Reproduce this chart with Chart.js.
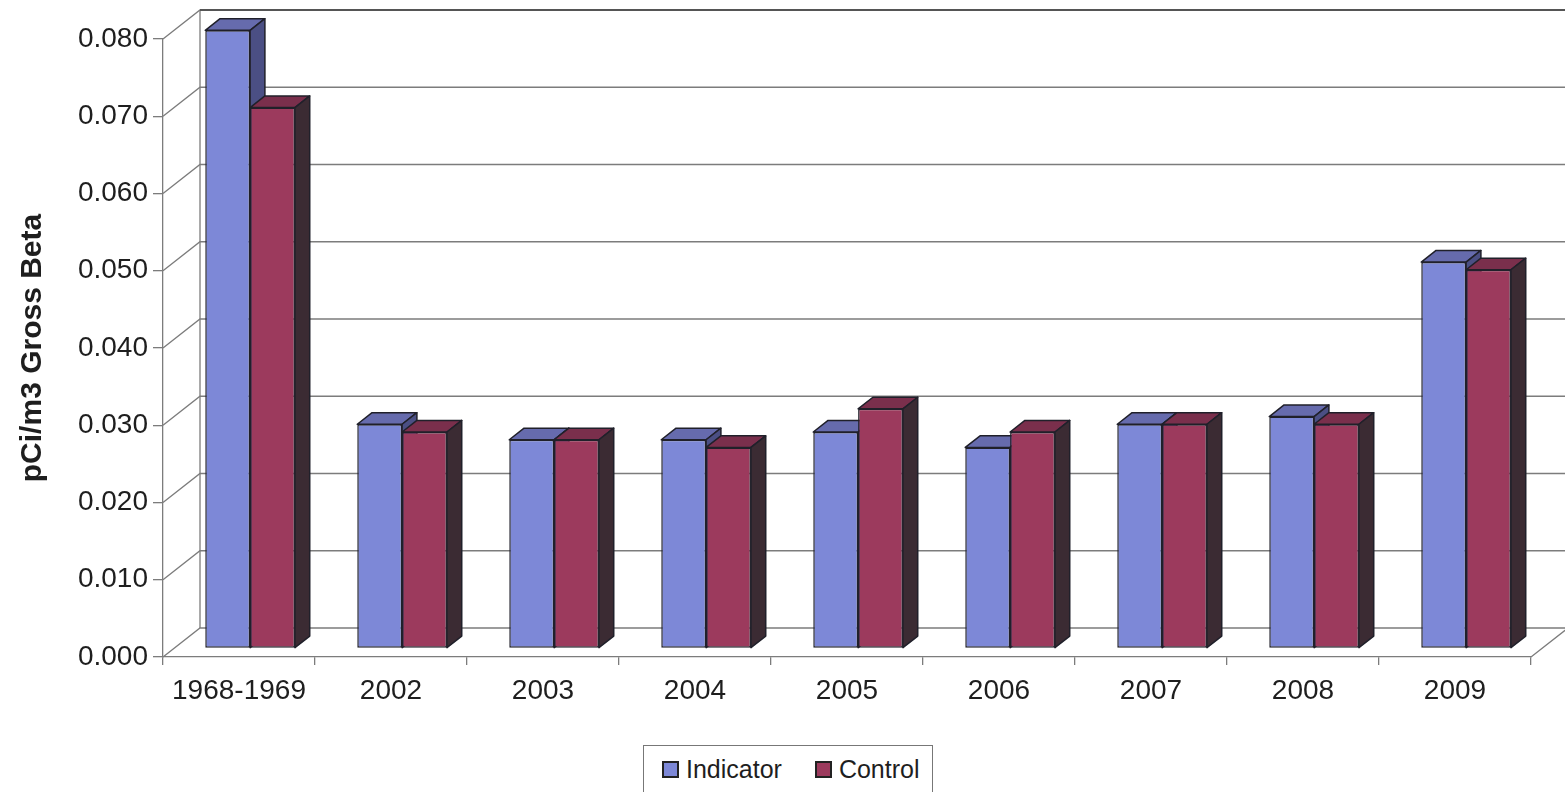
<!DOCTYPE html>
<html>
<head>
<meta charset="utf-8">
<script src="https://cdn.jsdelivr.net/npm/chart.js@4.4.1/dist/chart.umd.min.js"></script>
<style>
  html, body { margin: 0; padding: 0; background: #fff; overflow: hidden; }
  #wrap { position: relative; width: 1565px; height: 792px; }
  #legend {
    position: absolute; left: 643px; top: 745px; width: 290px; height: 60px;
    box-sizing: border-box; border: 1px solid #777; background: #fff;
    display: flex; align-items: flex-start; padding: 11px 0 0 18px;
    font: 25px "Liberation Sans", Arial, sans-serif; color: #1e1e1e; line-height: 25px;
  }
  #legend .item { display: flex; align-items: center; margin-right: 33px; }
  #legend .box { width: 13px; height: 13px; border: 2px solid #222; margin-right: 7px; }
</style>
</head>
<body>
<div id="wrap">
  <canvas id="chart"></canvas>
  <div id="legend"></div>
</div>
<script>
// Data
const categories = ['1968-1969', '2002', '2003', '2004', '2005', '2006', '2007', '2008', '2009'];
const seriesNames = ['Indicator', 'Control'];
const indicatorValues = [0.080, 0.029, 0.027, 0.027, 0.028, 0.026, 0.029, 0.030, 0.050];
const controlValues = [0.070, 0.028, 0.027, 0.026, 0.031, 0.028, 0.029, 0.029, 0.049];
const yMax = 0.080;
const yStep = 0.010;

// Colours per series: front face, top face, side face
const frontColors = ['#7d88d7', '#9c3a5d'];
const topColors = ['#666bad', '#7a2f4c'];
const sideColors = ['#4b4f84', '#3b2b33'];
const edgeColor = '#20202a';
const lineColor = '#7c7c7c';

// Fake 3D depth (Excel-style), in pixels
const DEPTH_X = 37;
const DEPTH_Y = -29;
const BAR_FRONT = 0.3;
const BAR_BACK = 0.7;
const FONT = '"Liberation Sans", Arial, sans-serif';

function poly(ctx, pts, fill) {
  ctx.beginPath();
  ctx.moveTo(pts[0][0], pts[0][1]);
  for (let i = 1; i < pts.length; i++) ctx.lineTo(pts[i][0], pts[i][1]);
  ctx.closePath();
  ctx.fillStyle = fill;
  ctx.fill();
  ctx.stroke();
}

// Walls, back gridlines and bar tops/sides, then shift the front faces
const threeD = {
  id: 'threeD',
  beforeDatasetsDraw(chart) {
    const { ctx, chartArea: a, scales: { y } } = chart;
    ctx.save();
    ctx.strokeStyle = lineColor;
    ctx.lineWidth = 1.3;
    y.ticks.forEach(t => {
      const py = y.getPixelForValue(t.value);
      ctx.beginPath();
      ctx.moveTo(a.left, py);
      ctx.lineTo(a.left + DEPTH_X, py + DEPTH_Y);
      ctx.lineTo(a.right + DEPTH_X, py + DEPTH_Y);
      ctx.stroke();
    });
    // back wall left edge and floor right edge
    ctx.beginPath();
    ctx.moveTo(a.left + DEPTH_X, y.getPixelForValue(yMax) + DEPTH_Y);
    ctx.lineTo(a.left + DEPTH_X, y.getPixelForValue(0) + DEPTH_Y);
    ctx.moveTo(a.right, a.bottom);
    ctx.lineTo(a.right + DEPTH_X, a.bottom + DEPTH_Y);
    ctx.stroke();
    // top edge of the back wall a bit darker
    ctx.strokeStyle = '#555';
    ctx.lineWidth = 2;
    ctx.beginPath();
    ctx.moveTo(a.left + DEPTH_X, y.getPixelForValue(yMax) + DEPTH_Y);
    ctx.lineTo(a.right + DEPTH_X, y.getPixelForValue(yMax) + DEPTH_Y);
    ctx.stroke();

    const fx = DEPTH_X * BAR_FRONT, fy = DEPTH_Y * BAR_FRONT;
    const dx = DEPTH_X * (BAR_BACK - BAR_FRONT), dy = DEPTH_Y * (BAR_BACK - BAR_FRONT);
    ctx.strokeStyle = edgeColor;
    ctx.lineWidth = 1.5;
    ctx.lineJoin = 'round';
    for (let i = 0; i < categories.length; i++) {
      chart.data.datasets.forEach((ds, di) => {
        const bar = chart.getDatasetMeta(di).data[i];
        const { x: bx, y: by, base, width } = bar.getProps(['x', 'y', 'base', 'width'], true);
        const l = bx - width / 2 + fx, r = bx + width / 2 + fx;
        const t = by + fy, b = base + fy;
        poly(ctx, [[l, t], [r, t], [r + dx, t + dy], [l + dx, t + dy]], topColors[di]);
        poly(ctx, [[r, t], [r + dx, t + dy], [r + dx, b + dy], [r, b]], sideColors[di]);
      });
    }
    ctx.restore();
    ctx.save();
    ctx.translate(fx, fy);
  },
  afterDatasetsDraw(chart) {
    chart.ctx.restore();
  }
};

const chart = new Chart(document.getElementById('chart'), {
  type: 'bar',
  data: {
    labels: categories,
    datasets: [
      { label: seriesNames[0], data: indicatorValues },
      { label: seriesNames[1], data: controlValues }
    ].map((ds, i) => Object.assign(ds, {
      backgroundColor: frontColors[i],
      borderColor: edgeColor,
      borderWidth: 1.5,
      borderSkipped: false,
      barPercentage: 1,
      categoryPercentage: 0.59
    }))
  },
  options: {
    responsive: true,
    maintainAspectRatio: false,
    animation: false,
    layout: { padding: { top: 39, right: 34, bottom: 45, left: 0 } },
    plugins: {
      legend: { display: false },
      tooltip: { enabled: false }
    },
    scales: {
      x: {
        offset: true,
        grid: { offset: true, drawOnChartArea: false, drawTicks: true, tickLength: 8, color: lineColor, lineWidth: 1.3 },
        border: { display: true, color: lineColor, width: 1.3 },
        ticks: { color: '#1e1e1e', font: { family: FONT, size: 28 }, padding: 9, maxRotation: 0 },
        afterFit: s => { s.height = 90; }
      },
      y: {
        min: 0,
        max: yMax,
        ticks: {
          stepSize: yStep,
          color: '#1e1e1e',
          font: { family: FONT, size: 28 },
          padding: 5,
          callback: v => v.toFixed(3)
        },
        grid: { drawOnChartArea: false, drawTicks: true, tickLength: 10, color: lineColor, lineWidth: 1.3 },
        border: { display: true, color: lineColor, width: 1.3 },
        title: {
          display: true,
          text: 'pCi/m3 Gross Beta',
          color: '#1e1e1e',
          font: { family: FONT, size: 30, weight: 'bold' },
          padding: { top: 15, bottom: 0 }
        },
        afterFit: s => { s.width = 163; }
      }
    }
  },
  plugins: [threeD]
});

// Legend
const legend = document.getElementById('legend');
seriesNames.forEach((name, i) => {
  const item = document.createElement('span');
  item.className = 'item';
  const box = document.createElement('span');
  box.className = 'box';
  box.style.background = frontColors[i];
  item.appendChild(box);
  item.appendChild(document.createTextNode(name));
  legend.appendChild(item);
});
</script>
</body>
</html>
